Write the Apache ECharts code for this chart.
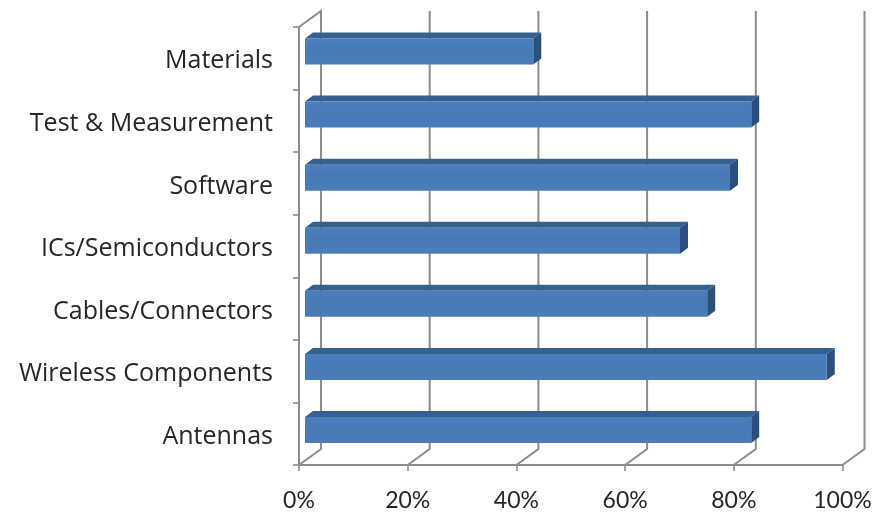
<!DOCTYPE html>
<html>
<head>
<meta charset="utf-8">
<style>html,body{margin:0;padding:0;background:#fff}#c{width:890px;height:512px}</style>
<script src="https://cdn.jsdelivr.net/npm/echarts@6/dist/echarts.min.js"></script>
</head>
<body>
<div id="c"></div>
<script>
var categories = ["Materials","Test & Measurement","Software","ICs/Semiconductors","Cables/Connectors","Wireless Components","Antennas"];
var values = [42,82.1,78.2,69,74,96,82.1];
var xTicks = [0,20,40,60,80,100];

var wallDepth = [22,-16];
var barDepth = [8,-6];
var barHeight = 26;
var gray = '#8c8c8c';

var chart = echarts.init(document.getElementById('c'));

function wallItem(params, api) {
  var cs = params.coordSys;
  var p = api.coord([api.value(0), categories[0]]);
  var x = p[0], top = cs.y, bottom = cs.y + cs.height;
  var pts = [[x,bottom],[x+wallDepth[0],bottom+wallDepth[1]],[x+wallDepth[0],top+wallDepth[1]]];
  if (api.value(0) === 0) pts.push([x,top]);
  return {type:'polyline',shape:{points:pts},style:{fill:null,stroke:gray,lineWidth:2},silent:true};
}

function barItem(params, api) {
  var p = api.coord([api.value(0), api.value(1)]);
  var o = api.coord([0, api.value(1)]);
  var x0 = o[0], x1 = p[0], y0 = p[1]-barHeight/2, y1 = p[1]+barHeight/2;
  var dx = barDepth[0], dy = barDepth[1];
  return {type:'group',children:[
    {type:'polygon',shape:{points:[[x0,y0],[x0+dx,y0+dy],[x1+dx,y0+dy],[x1,y0]]},style:{fill:'#35608f'}},
    {type:'polygon',shape:{points:[[x1,y0],[x1+dx,y0+dy],[x1+dx,y1+dy],[x1,y1]]},style:{fill:'#2b4f7c'}},
    {type:'rect',shape:{x:x0,y:y0,width:x1-x0,height:y1-y0},style:{fill:new echarts.graphic.LinearGradient(0,0,0,1,[{offset:0,color:'#4a7ebc'},{offset:0.5,color:'#4679b6'},{offset:1,color:'#4a7dba'}])}}
  ]};
}

chart.setOption({
  animation:false,
  backgroundColor:'#fff',
  grid:[
    {left:299,top:27,width:543.5,height:439},
    {left:305,top:20,width:543.5,height:441.5}
  ],
  xAxis:[
    {type:'value',gridIndex:0,position:'bottom',min:0,max:100,interval:20,
     axisLine:{show:true,lineStyle:{color:gray,width:2}},
     axisTick:{show:true,length:6,lineStyle:{color:gray,width:1.6}},
     splitLine:{show:false},
     axisLabel:{formatter:'{value}%',color:'#262626',fontFamily:'Lato',fontSize:23,margin:24}},
    {type:'value',gridIndex:1,min:0,max:100,show:false,splitLine:{show:false}}
  ],
  yAxis:[
    {type:'category',gridIndex:0,inverse:true,data:categories,
     axisLine:{show:true,onZero:false,lineStyle:{color:gray,width:2}},
     axisTick:{show:true,length:6,alignWithLabel:false,lineStyle:{color:gray,width:1.6}},
     splitLine:{show:false},
     axisLabel:{color:'#262626',fontFamily:'Open Sans',fontSize:25,margin:26,verticalAlign:'top',lineHeight:6}},
    {type:'category',gridIndex:1,inverse:true,data:categories,show:false}
  ],
  series:[
    {type:'custom',xAxisIndex:0,yAxisIndex:0,renderItem:wallItem,silent:true,z:1,
     encode:{x:0},data:xTicks.map(function(t){return [t];})},
    {type:'custom',xAxisIndex:1,yAxisIndex:1,renderItem:barItem,z:3,
     encode:{x:0,y:1},data:values.map(function(v,i){return [v,i];})}
  ]
});
</script>
</body>
</html>
